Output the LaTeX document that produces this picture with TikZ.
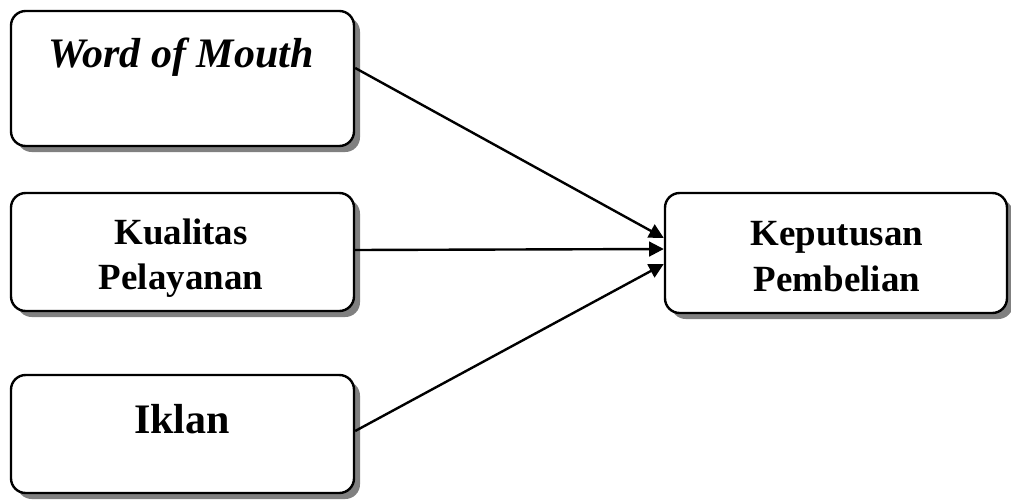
\documentclass[tikz,border=0pt]{standalone}
\usepackage{fontspec}
\setmainfont{Liberation Serif}
\usetikzlibrary{arrows.meta,shadows,calc}
\def\pxu{0.75pt}
\tikzset{
  box/.style={draw=black, line width=1.8pt, fill=white, rounded corners=11pt,
    inner sep=0pt, drop shadow={shadow xshift=4.5pt, shadow yshift=-4.5pt, fill=black!50, opacity=1}},
  big/.style={font=\fontsize{31.5}{36}\selectfont\bfseries, inner sep=0pt, anchor=base},
  mid/.style={font=\fontsize{27.7}{31.5}\selectfont\bfseries, inner sep=0pt, anchor=base},
  link/.style={line width=1.8pt, -{Triangle[length=11pt,width=11pt]}}
}
\begin{document}
\begin{tikzpicture}[x=0.75pt,y=-0.75pt]
\useasboundingbox (0,0) rectangle (1011,500);
\node[box, minimum width=343*\pxu, minimum height=135*\pxu] (b1) at (182.5,78.5) {};
\node[box, minimum width=343*\pxu, minimum height=118*\pxu] (b2) at (182.5,252) {};
\node[box, minimum width=343*\pxu, minimum height=118*\pxu] (b3) at (182.5,434) {};
\node[box, minimum width=342*\pxu, minimum height=120*\pxu] (b4) at (836,253) {};
\node[big, font=\fontsize{31.5}{36}\selectfont\bfseries\itshape] (t1) at (181,67) {Word of Mouth};
\node[mid] (t2a) at (181,244) {Kualitas};
\node[mid] (t2b) at (181,289) {Pelayanan};
\node[big] (t3) at (182,433) {Iklan};
\node[mid] (t4a) at (837,245) {Keputusan};
\node[mid] (t4b) at (837,291) {Pembelian};
\coordinate (s1) at ($(b1.east)+(0,-10.5)$);
\coordinate (s2) at ($(b2.east)+(0,-2)$);
\coordinate (s3) at ($(b3.east)+(0,-3)$);
\coordinate (e1) at ($(b4.west)+(0,-15)$);
\coordinate (e2) at ($(b4.west)+(0,-4)$);
\coordinate (e3) at ($(b4.west)+(0,11)$);
\draw[link] (s1) -- (e1);
\draw[link] (s2) -- (e2);
\draw[link] (s3) -- (e3);
\end{tikzpicture}
\end{document}
